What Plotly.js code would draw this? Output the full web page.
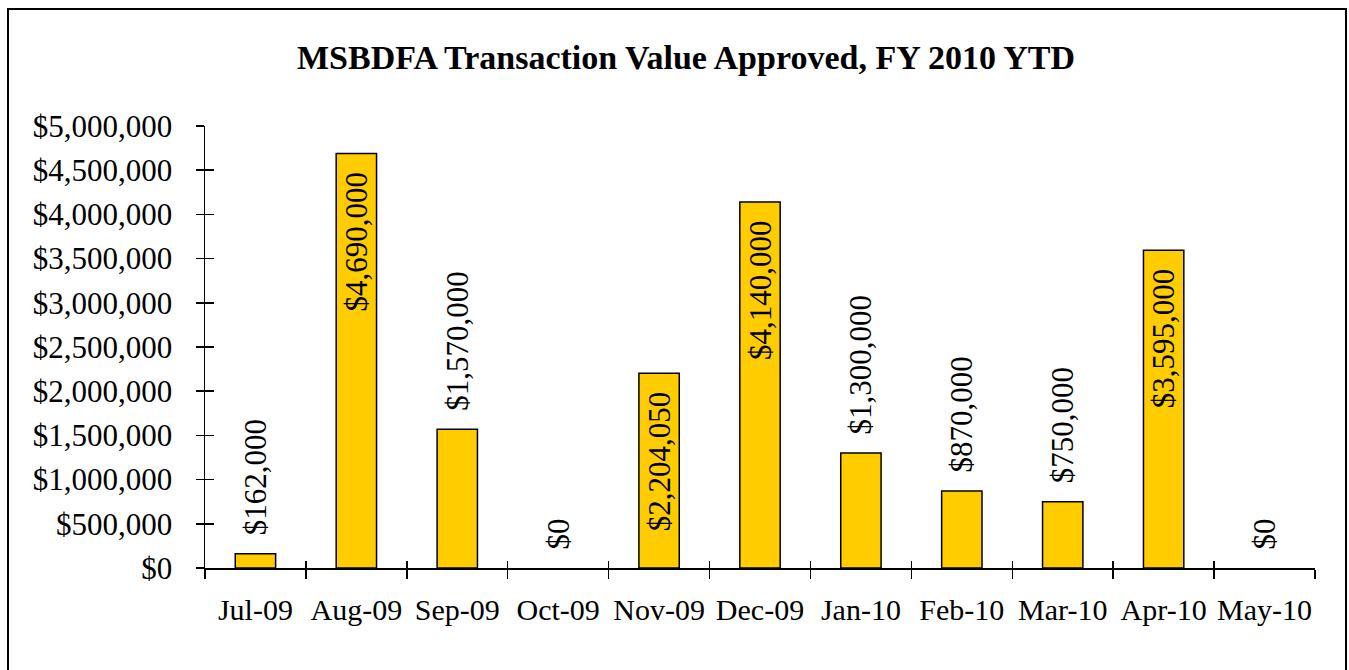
<!DOCTYPE html>
<html>
<head>
<meta charset="utf-8">
<script src="https://cdn.plot.ly/plotly-3.0.1.min.js"></script>
<style>
  html, body { margin: 0; padding: 0; background: #fff; }
  #wrap { position: relative; width: 1349px; height: 670px; overflow: hidden; }
  #chart { width: 1349px; height: 670px; }
  #frame { position: absolute; left: 7px; top: 8px; width: 1336px; height: 700px;
           border: 2px solid #000; pointer-events: none; }
</style>
</head>
<body>
<div id="wrap">
  <div id="chart"></div>
  <div id="frame"></div>
</div>
<script>
const months = ["Jul-09","Aug-09","Sep-09","Oct-09","Nov-09","Dec-09","Jan-10","Feb-10","Mar-10","Apr-10","May-10"];
const approved = [162000, 4690000, 1570000, 0, 2204050, 4140000, 1300000, 870000, 750000, 3595000, 0];
const yTicks = [0, 500000, 1000000, 1500000, 2000000, 2500000, 3000000, 3500000, 4000000, 4500000, 5000000];

const NB = "\u00A0\u00A0";
const fmt = v => "$" + v.toLocaleString("en-US");
const positions = approved.map(v => v > 2000000 ? "inside" : "outside");
const labels = approved.map((v, i) => positions[i] === "inside" ? fmt(v) + NB : NB + fmt(v));
const outlineWidths = approved.map(v => v > 0 ? 1.5 : 0);

const serif = "'Liberation Serif', 'Times New Roman', serif";

const bars = {
  type: "bar",
  x: months,
  y: approved,
  text: labels,
  textposition: positions,
  insidetextanchor: "end",
  textangle: -90,
  constraintext: "none",
  cliponaxis: false,
  textfont: { family: serif, size: 31, color: "#000" },
  insidetextfont: { family: serif, size: 31, color: "#000" },
  outsidetextfont: { family: serif, size: 31, color: "#000" },
  marker: { color: "#FFCC00", line: { color: "#000", width: outlineWidths } },
  hoverinfo: "x+y",
  showlegend: false
};

const ghost = {
  type: "scatter",
  mode: "markers",
  x: months,
  y: approved,
  xaxis: "x2",
  yaxis: "y2",
  marker: { opacity: 0 },
  hoverinfo: "skip",
  showlegend: false
};

const layout = {
  width: 1349,
  height: 670,
  paper_bgcolor: "#fff",
  plot_bgcolor: "#fff",
  margin: { l: 205, r: 34, t: 126, b: 102 },
  bargap: 0.6,
  showlegend: false,
  font: { family: serif, color: "#000" },
  title: {
    text: "<b>MSBDFA Transaction Value Approved, FY 2010 YTD</b>",
    font: { family: serif, size: 34, color: "#000" },
    x: 0.5085, xref: "container", xanchor: "center",
    y: 0.915, yref: "container", yanchor: "middle"
  },
  xaxis: {
    type: "category",
    categoryorder: "array",
    categoryarray: months,
    range: [-0.5, 10.5],
    tickson: "boundaries",
    ticks: "outside",
    ticklen: 9,
    tickwidth: 1.5,
    tickcolor: "#000",
    tickangle: 0,
    showline: true,
    linecolor: "#000",
    linewidth: 1.5,
    showgrid: false,
    zeroline: false,
    tickfont: { family: serif, size: 30, color: "#000" },
    ticklabelstandoff: 14,
    fixedrange: true
  },
  xaxis2: {
    type: "category",
    overlaying: "x",
    categoryorder: "array",
    categoryarray: months,
    range: [-0.5, 10.5],
    tickson: "boundaries",
    ticks: "inside",
    ticklen: 7,
    tickwidth: 1.5,
    tickcolor: "#000",
    showticklabels: false,
    showline: false,
    showgrid: false,
    zeroline: false,
    fixedrange: true
  },
  yaxis: {
    range: [0, 5000000],
    tickmode: "array",
    tickvals: yTicks,
    ticktext: yTicks.map(fmt),
    ticks: "outside",
    ticklen: 8,
    tickwidth: 1.5,
    tickcolor: "#000",
    showline: true,
    linecolor: "#000",
    linewidth: 1.5,
    showgrid: false,
    zeroline: false,
    tickfont: { family: serif, size: 31, color: "#000" },
    ticklabelstandoff: 17,
    fixedrange: true
  },
  yaxis2: {
    overlaying: "y",
    range: [0, 5000000],
    tickmode: "array",
    tickvals: yTicks,
    ticks: "inside",
    ticklen: 9,
    tickwidth: 1.5,
    tickcolor: "#000",
    showticklabels: false,
    showline: false,
    showgrid: false,
    zeroline: false,
    fixedrange: true
  }
};

Plotly.newPlot("chart", [bars, ghost], layout, { displayModeBar: false, staticPlot: true });
</script>
</body>
</html>
